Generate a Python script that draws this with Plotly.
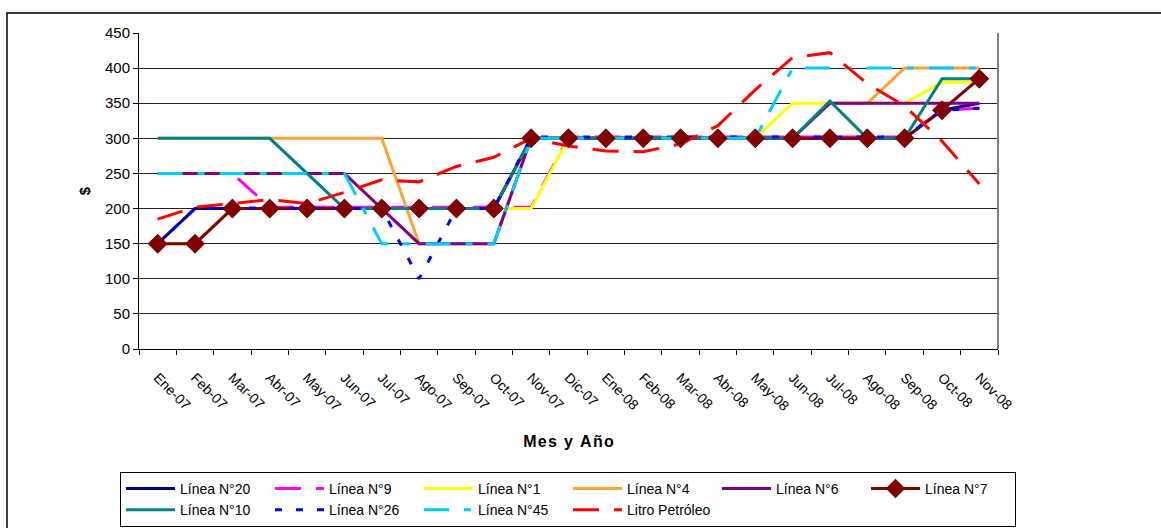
import plotly.graph_objects as go

months = ["Ene-07", "Feb-07", "Mar-07", "Abr-07", "May-07", "Jun-07", "Jul-07", "Ago-07",
          "Sep-07", "Oct-07", "Nov-07", "Dic-07", "Ene-08", "Feb-08", "Mar-08", "Abr-08",
          "May-08", "Jun-08", "Jul-08", "Ago-08", "Sep-08", "Oct-08", "Nov-08"]

linea_20 = [150, 200, 200, 200, 200, 200, 200, 200, 200, 200, 300, 300, 300, 300, 300, 300,
            300, 300, 300, 300, 300, 340, 350]
linea_9 = [250, 250, 250, 202, 202, 202, 202, 202, 202, 202, 202, 302, 302, 302, 302, 302,
           302, 302, 302, 302, 302, 340, 343]
linea_1 = [150, 150, 200, 200, 200, 200, 200, 200, 200, 200, 200, 300, 300, 300, 300, 300,
           300, 350, 350, 350, 350, 380, 380]
linea_4 = [300, 300, 300, 300, 300, 300, 300, 150, 150, 150, 300, 300, 300, 300, 300, 300,
           300, 300, 350, 350, 400, 400, 400]
linea_6 = [250, 250, 250, 250, 250, 250, 200, 150, 150, 150, 300, 300, 300, 300, 300, 300,
           300, 300, 350, 350, 350, 350, 350]
linea_7 = [150, 150, 200, 200, 200, 200, 200, 200, 200, 200, 300, 300, 300, 300, 300, 300,
           300, 300, 300, 300, 300, 340, 385]
linea_10 = [300, 300, 300, 300, 250, 200, 200, 200, 200, 200, 300, 300, 300, 300, 300, 300,
            300, 300, 353, 300, 300, 385, 385]
linea_26 = [150, 200, 201, 201, 201, 201, 200, 100, 200, 200, 302, 302, 302, 302, 302, 302,
            302, 302, 302, 302, 302, 340, 343]
linea_45 = [250, 250, 250, 250, 250, 250, 150, 150, 150, 150, 300, 300, 300, 300, 300, 300,
            300, 400, 400, 400, 400, 400, 400]
litro_petroleo = [185, 202, 207, 213, 207, 223, 241, 238, 260, 273, 300, 289, 282, 281, 292, 318,
                  369, 415, 422, 378, 346, 296, 235]

series = [
    ("Línea N°20", linea_20, "#000080", "solid"),
    ("Línea N°9", linea_9, "#FF00FF", "26px,15px"),
    ("Línea N°1", linea_1, "#FFFF00", "solid"),
    ("Línea N°4", linea_4, "#FFA333", "solid"),
    ("Línea N°6", linea_6, "#800080", "solid"),
    ("Línea N°7", linea_7, "#800000", "solid"),
    ("Línea N°10", linea_10, "#008080", "solid"),
    ("Línea N°26", linea_26, "#0000FF", "7px,14px"),
    ("Línea N°45", linea_45, "#00CCFF", "25px,15px,7px,15px"),
    ("Litro Petróleo", litro_petroleo, "#FF0000", "26px,15px"),
]

FONT = "Liberation Sans, Arial, sans-serif"

fig = go.Figure()
for name, vals, color, dash in series:
    if name == "Línea N°7":
        fig.add_trace(go.Scatter(
            x=months, y=vals, name=name, mode="lines+markers",
            line=dict(color=color, width=3, dash=dash),
            marker=dict(symbol="diamond", size=15, color=color),
        ))
    else:
        fig.add_trace(go.Scatter(
            x=months, y=vals, name=name, mode="lines",
            line=dict(color=color, width=3, dash=dash),
        ))

# markers drawn on top of all lines (as in the original chart)
fig.add_trace(go.Scatter(
    x=months, y=linea_7, mode="markers", showlegend=False, hoverinfo="skip",
    marker=dict(symbol="diamond", size=15, color="#800000"),
))

L, R, T, B = 139, 998, 33, 349
W, H = 1161, 528
pw, ph = R - L, B - T


def px_x(px):
    return (px - L) / pw


def px_y(py):
    return (B - py) / ph


hs = "\u200a"
xtitle = "<b>" + hs.join("Mes y Año") + "</b>"

fig.update_layout(
    width=W, height=H,
    margin=dict(l=L, r=W - R, t=T, b=H - B, autoexpand=False),
    paper_bgcolor="white", plot_bgcolor="white",
    font=dict(family=FONT, color="black"),
    showlegend=True,
    legend=dict(
        orientation="h", x=px_x(120), y=px_y(472), xanchor="left", yanchor="top",
        bordercolor="black", borderwidth=1, bgcolor="white",
        font=dict(size=14, family=FONT),
        itemwidth=49,
        entrywidth=85, entrywidthmode="pixels", traceorder="normal",
    ),
    xaxis=dict(
        type="category", categoryorder="array", categoryarray=months,
        range=[-0.5, len(months) - 0.5], autorange=False,
        showline=True, linecolor="black", linewidth=1,
        ticks="outside", ticklen=5, tickcolor="black", tickson="boundaries",
        tickangle=45, tickfont=dict(size=14, family=FONT), ticklabelstandoff=14,
        showgrid=False, zeroline=False,
        title=dict(text=xtitle, font=dict(size=16, family=FONT), standoff=22),
    ),
    yaxis=dict(
        range=[0, 450], autorange=False, dtick=50, tick0=0,
        showline=True, linecolor="black", linewidth=1,
        ticks="outside", ticklen=5, tickcolor="black",
        tickfont=dict(size=15, family=FONT),
        showgrid=True, gridcolor="#202020", gridwidth=1, zeroline=False,
        title=dict(text="<b>$</b>", font=dict(size=15, family=FONT), standoff=10),
    ),
    shapes=[
        dict(type="rect", xref="paper", yref="paper",
             x0=px_x(7), x1=px_x(1175), y0=px_y(545), y1=px_y(13),
             line=dict(color="black", width=1.5), layer="below"),
        dict(type="line", xref="paper", yref="paper",
             x0=1, x1=1, y0=0, y1=1,
             line=dict(color="#808080", width=2)),
    ],
)

fig.write_html(
    "out.html",
    config={"displayModeBar": False},
    post_script="document.body.style.margin='0';document.body.style.overflow='hidden';",
)
